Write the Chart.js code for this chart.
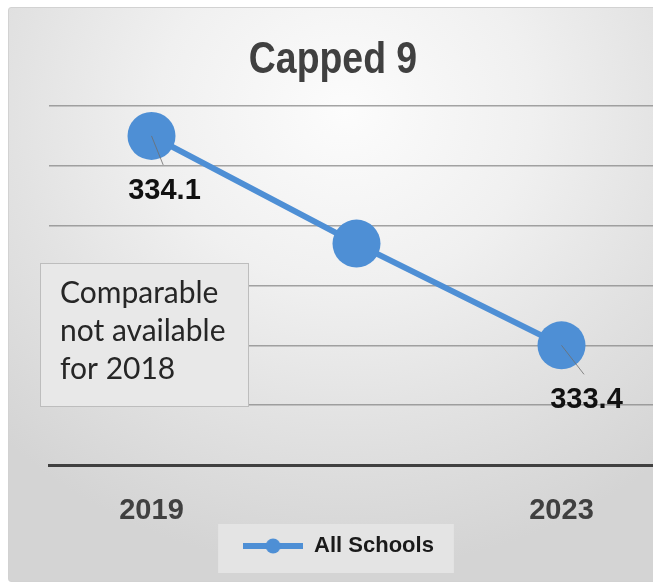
<!DOCTYPE html>
<html>
<head>
<meta charset="utf-8">
<script src="https://cdn.jsdelivr.net/npm/chart.js@4.4.1/dist/chart.umd.min.js"></script>
<style>
  html, body { margin: 0; padding: 0; background: #fff; overflow: hidden; }
  .panel {
    position: absolute; left: 8px; top: 7px; width: 700px; height: 573px;
    border: 1px solid #d2d2d2; border-radius: 3px;
    background: radial-gradient(ellipse 70% 80% at 48% 18%, #fcfcfc 0%, #f0f0f0 38%, #e2e2e2 68%, #d4d4d4 100%);
  }
  #myChart { position: absolute; left: 0; top: 0; }
</style>
</head>
<body>
<div class="panel"></div>
<canvas id="myChart" width="670" height="584"></canvas>
<script>
const years = ["2019", "", "2023"];
const allSchools = [334.1, 333.74, 333.4];
const labelledPoints = [0, 2];
const yMin = 333.0;
const yMax = 334.2;
const yStep = 0.2;
const chartTitle = "Capped 9";
const noteLines = ["Comparable", "not available", "for 2018"];

const blue = "#4e8fd5";
const sans = "'Liberation Sans', Arial, sans-serif";

// line + marker used as the legend swatch
const swatch = document.createElement("canvas");
swatch.width = 60;
swatch.height = 16;
(() => {
  const c = swatch.getContext("2d");
  c.strokeStyle = blue;
  c.lineWidth = 6;
  c.beginPath();
  c.moveTo(0, 8);
  c.lineTo(60, 8);
  c.stroke();
  c.fillStyle = blue;
  c.beginPath();
  c.arc(30, 8, 7.5, 0, Math.PI * 2);
  c.fill();
})();

// legend background box, painted before the legend itself
const legendBox = {
  id: "legendBox",
  beforeDraw(chart) {
    const hb = chart.legend && chart.legend.legendHitBoxes && chart.legend.legendHitBoxes[0];
    if (!hb) return;
    const ctx = chart.ctx;
    ctx.save();
    ctx.fillStyle = "#e4e4e4";
    ctx.fillRect(hb.left - 25, hb.top + hb.height / 2 - 22, hb.width + 45, 49);
    ctx.restore();
  },
};

// condensed title, value labels with leader lines, note box
const annotations = {
  id: "annotations",
  afterDatasetsDraw(chart) {
    const ctx = chart.ctx;
    const meta = chart.getDatasetMeta(0);
    ctx.save();

    ctx.fillStyle = "#404040";
    ctx.font = "bold 44px " + sans;
    ctx.textAlign = "center";
    ctx.textBaseline = "alphabetic";
    ctx.save();
    ctx.translate(chart.width / 2 - 2, 73);
    ctx.scale(0.85, 1);
    ctx.fillText(chartTitle, 0, 0);
    ctx.restore();

    labelledPoints.forEach((i, n) => {
      const p = meta.data[i];
      const dx = n === 0 ? 13 : 25;
      const dy = 55;
      ctx.strokeStyle = "rgba(110,110,110,0.8)";
      ctx.lineWidth = 1;
      ctx.beginPath();
      ctx.moveTo(p.x, p.y);
      ctx.lineTo(p.x + dx * 0.9, p.y + 29);
      ctx.stroke();
      ctx.fillStyle = "#111";
      ctx.font = "bold 29px " + sans;
      ctx.textAlign = "center";
      ctx.textBaseline = "middle";
      ctx.fillText(allSchools[i].toFixed(1), p.x + dx, p.y + dy);
    });

    const left = chart.chartArea.left - 9;
    const top = 263;
    ctx.fillStyle = "#e8e8e8";
    ctx.fillRect(left, top, 209, 144);
    ctx.strokeStyle = "#bdbdbd";
    ctx.lineWidth = 1;
    ctx.strokeRect(left + 0.5, top + 0.5, 208, 143);
    ctx.fillStyle = "#262626";
    ctx.font = "30px Lato, 'Open Sans', sans-serif";
    ctx.textAlign = "left";
    ctx.textBaseline = "alphabetic";
    noteLines.forEach((line, k) => {
      ctx.fillText(line, left + 20, top + 40 + k * 38);
    });
    ctx.restore();
  },
};

const ctx = document.getElementById("myChart").getContext("2d");

const chart = new Chart(ctx, {
  type: "line",
  data: {
    labels: years,
    datasets: [
      {
        label: "All Schools",
        data: allSchools,
        borderColor: blue,
        backgroundColor: blue,
        borderWidth: 6,
        pointRadius: 24,
        pointHoverRadius: 24,
        pointBackgroundColor: blue,
        pointBorderWidth: 0,
        tension: 0,
        clip: false,
      },
    ],
  },
  plugins: [legendBox, annotations],
  options: {
    responsive: false,
    animation: false,
    layout: {
      autoPadding: false,
      padding: { left: 13, right: 6, top: 106, bottom: 17 },
    },
    scales: {
      x: {
        offset: true,
        grid: { display: false, drawTicks: false },
        border: { display: true, color: "#404040", width: 3 },
        ticks: {
          color: "#404040",
          padding: 29,
          font: { family: sans, size: 29, weight: "bold" },
        },
        afterFit: (scale) => {
          scale.height = 60;
        },
      },
      y: {
        min: yMin,
        max: yMax,
        ticks: { display: false, stepSize: yStep },
        grid: { color: "rgba(135,135,135,0.75)", lineWidth: 1.5, drawTicks: false },
        border: { display: false },
        afterFit: (scale) => {
          scale.width = 36;
        },
      },
    },
    plugins: {
      title: { display: false },
      legend: {
        position: "bottom",
        labels: {
          usePointStyle: true,
          pointStyleWidth: 60,
          color: "#1a1a1a",
          font: { family: sans, size: 22, weight: "bold" },
          padding: 10,
          generateLabels: () => [
            {
              text: "All Schools",
              pointStyle: swatch,
              fillStyle: blue,
              strokeStyle: blue,
              fontColor: "#1a1a1a",
              lineWidth: 0,
              datasetIndex: 0,
              hidden: false,
            },
          ],
        },
      },
      tooltip: { enabled: false },
    },
  },
});
</script>
</body>
</html>
